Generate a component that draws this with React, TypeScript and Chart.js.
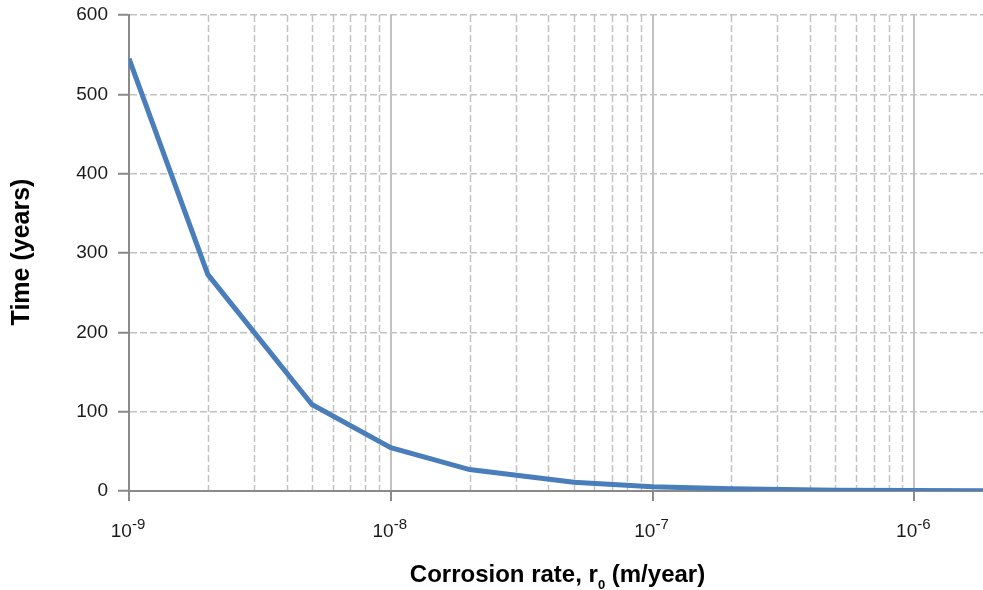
import React, { useEffect, useRef } from "react";
import { Chart, registerables } from "chart.js";

Chart.register(...registerables);

// ---- data ----
const corrosionRates = [1e-9, 2e-9, 5e-9, 1e-8, 2e-8, 5e-8, 1e-7, 2e-7, 5e-7, 1e-6, 2e-6];
const timeYears = [545, 273, 109, 54.5, 27, 11, 5.5, 2.7, 1.1, 0.55, 0.27];
const xDecadeExponents = [-9, -8, -7, -6];
const yTickValues = [0, 100, 200, 300, 400, 500, 600];
const xTitleMain = "Corrosion rate, r";
const xTitleSub = "0";
const xTitleEnd = " (m/year)";
const yTitle = "Time (years)";

const FONT = "'Liberation Sans', Arial, Helvetica, sans-serif";
const AXIS = "#8a8a8a";
const GRID = "#c2c2c2";

const overlay = {
  id: "overlay",
  beforeDraw(chart: any) {
    const { ctx, chartArea, scales } = chart;
    const x = scales.x;
    ctx.save();
    for (const e of xDecadeExponents) {
      for (let m = 1; m <= 9; m++) {
        const v = m * Math.pow(10, e);
        if (v < x.min * 0.999 || v > x.max) continue;
        const px = x.getPixelForValue(v);
        if (px < chartArea.left + 2) continue;
        ctx.beginPath();
        if (m === 1) {
          ctx.setLineDash([]);
          ctx.lineWidth = 2;
        } else {
          ctx.setLineDash([7, 3]);
          ctx.lineWidth = 1.5;
        }
        ctx.strokeStyle = GRID;
        ctx.moveTo(Math.round(px) + (m === 1 ? 0 : 0.5), chartArea.top);
        ctx.lineTo(Math.round(px) + (m === 1 ? 0 : 0.5), chartArea.bottom);
        ctx.stroke();
      }
    }
    ctx.restore();
  },
  beforeDatasetsDraw(chart: any) {
    const { ctx, chartArea, scales } = chart;
    const x = scales.x;
    ctx.save();
    ctx.setLineDash([]);
    ctx.strokeStyle = AXIS;
    ctx.lineWidth = 2;
    for (const e of xDecadeExponents) {
      const v = Math.pow(10, e);
      if (v < x.min * 0.999 || v > x.max) continue;
      const px = Math.round(x.getPixelForValue(v));
      ctx.beginPath();
      ctx.moveTo(px, chartArea.bottom);
      ctx.lineTo(px, chartArea.bottom + 10);
      ctx.stroke();
    }
    ctx.restore();
  },
  afterDraw(chart: any) {
    const { ctx, scales } = chart;
    const x = scales.x;
    ctx.save();
    ctx.fillStyle = "#1a1a1a";
    ctx.textBaseline = "alphabetic";
    ctx.textAlign = "left";
    // x tick labels 10^e
    for (const e of xDecadeExponents) {
      const v = Math.pow(10, e);
      if (v < x.min * 0.999 || v > x.max) continue;
      const px = x.getPixelForValue(v);
      const base = "10";
      const sup = String(e);
      ctx.font = `19px ${FONT}`;
      const wb = ctx.measureText(base).width;
      ctx.font = `15px ${FONT}`;
      const ws = ctx.measureText(sup).width;
      const start = px - (wb + ws) / 2 - 1;
      ctx.font = `19px ${FONT}`;
      ctx.fillText(base, start, 536.5);
      ctx.font = `15px ${FONT}`;
      ctx.fillText(sup, start + wb, 529);
    }
    // x title with subscript
    ctx.fillStyle = "#000";
    ctx.font = `bold 24px ${FONT}`;
    const w1 = ctx.measureText(xTitleMain).width;
    const w3 = ctx.measureText(xTitleEnd).width;
    ctx.font = `bold 13px ${FONT}`;
    const w2 = ctx.measureText(xTitleSub).width;
    const total = w1 + w2 + w3;
    const cx = 557.5;
    const sx = cx - total / 2;
    ctx.font = `bold 24px ${FONT}`;
    ctx.fillText(xTitleMain, sx, 582);
    ctx.font = `bold 13px ${FONT}`;
    ctx.fillText(xTitleSub, sx + w1, 589);
    ctx.font = `bold 24px ${FONT}`;
    ctx.fillText(xTitleEnd, sx + w1 + w2, 582);
    // y title
    ctx.translate(22, 252);
    ctx.rotate(-Math.PI / 2);
    ctx.textAlign = "center";
    ctx.textBaseline = "middle";
    ctx.font = `bold 25px ${FONT}`;
    ctx.fillText(yTitle, 0, 0);
    ctx.restore();
  },
};

export default function App() {
  const ref = useRef<HTMLCanvasElement | null>(null);
  useEffect(() => {
    if (!ref.current) return;
    const chart = new Chart(ref.current, {
      type: "line",
      data: {
        datasets: [
          {
            data: corrosionRates.map((r, i) => ({ x: r, y: timeYears[i] })),
            borderColor: "#4a7ebb",
            borderWidth: 5,
            pointRadius: 0,
            pointHoverRadius: 0,
            tension: 0,
            fill: false,
          },
        ],
      },
      options: {
        animation: false,
        responsive: false,
        devicePixelRatio: 1,
        events: [],
        layout: { padding: { top: 15, right: 0, bottom: 0, left: 0 } },
        plugins: {
          legend: { display: false },
          tooltip: { enabled: false },
          title: { display: false },
        },
        scales: {
          x: {
            type: "logarithmic",
            position: "bottom",
            min: 1e-9,
            max: 1.83e-6,
            ticks: { display: false },
            grid: { display: false },
            border: { display: true, color: AXIS, width: 2 },
            afterFit: (s: any) => {
              s.height = 99;
              s.paddingLeft = 0;
              s.paddingRight = 0;
            },
          },
          y: {
            type: "linear",
            min: 0,
            max: 600,
            afterBuildTicks: (s: any) => {
              s.ticks = yTickValues.map((v) => ({ value: v }));
            },
            ticks: {
              font: { size: 19, family: FONT },
              color: "#1a1a1a",
              padding: 10,
            },
            grid: {
              color: (c: any) => (c.tick && c.tick.value === 0 ? "rgba(0,0,0,0)" : GRID),
              lineWidth: 1.5,
              drawTicks: true,
              tickLength: 11,
              tickColor: AXIS,
              tickWidth: 2,
              tickBorderDash: [],
            },
            border: { display: true, color: AXIS, width: 2, dash: [7, 3] },
            afterFit: (s: any) => {
              s.width = 129;
              s.paddingTop = 0;
              s.paddingBottom = 0;
            },
          },
        },
      },
      plugins: [overlay],
    } as any);
    return () => chart.destroy();
  }, []);
  return (
    <div style={{ position: "fixed", left: 0, top: 0, width: 983, height: 590, background: "#fff" }}>
      <canvas ref={ref} width={983} height={590} style={{ display: "block", width: 983, height: 590 }} />
    </div>
  );
}
